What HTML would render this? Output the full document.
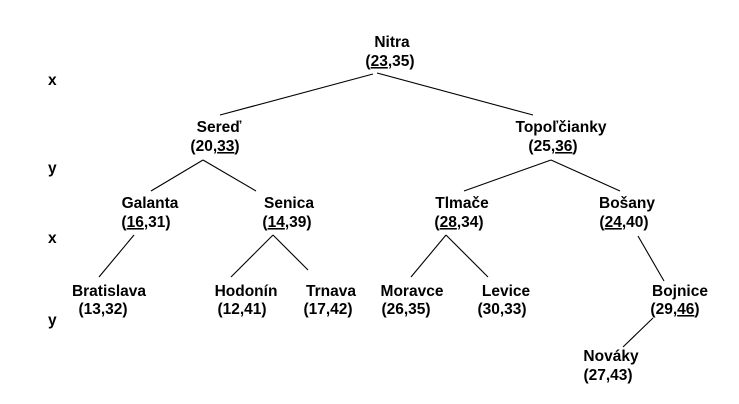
<!DOCTYPE html>
<html><head><meta charset="utf-8"><style>
html,body{margin:0;padding:0;background:#fff;width:739px;height:404px;overflow:hidden}
svg{display:block}
text{font-family:"Liberation Sans",Arial,sans-serif;font-weight:bold;font-size:15.5px;fill:#000}
</style></head><body>
<svg width="739" height="404" viewBox="0 0 739 404" xmlns="http://www.w3.org/2000/svg">
<g stroke="#000" stroke-width="1.1" fill="none">
<line x1="373" y1="74" x2="220" y2="115"/>
<line x1="377" y1="73" x2="533" y2="115"/>
<line x1="203" y1="160" x2="151" y2="191"/>
<line x1="203" y1="160" x2="256" y2="191"/>
<line x1="551" y1="160" x2="464" y2="191"/>
<line x1="551" y1="160" x2="620" y2="191"/>
<line x1="134" y1="235" x2="99" y2="277"/>
<line x1="273" y1="235" x2="231" y2="277"/>
<line x1="273" y1="235" x2="308" y2="270"/>
<line x1="446" y1="235" x2="411" y2="277"/>
<line x1="446" y1="235" x2="488" y2="277"/>
<line x1="638" y1="236" x2="664" y2="281"/>
<line x1="653" y1="318" x2="623" y2="347"/>
</g>
<g text-anchor="start">
<text x="48" y="85">x</text>
<text x="48" y="173">y</text>
<text x="48" y="243">x</text>
<text x="48" y="325">y</text>
</g>
<g text-anchor="middle">
<text x="392" y="47">Nitra</text>
<text x="390" y="66">(<tspan text-decoration="underline">23</tspan>,35)</text>
<text x="219" y="132">Sereď</text>
<text x="215" y="151">(20,<tspan text-decoration="underline">33</tspan>)</text>
<text x="561" y="132">Topoľčianky</text>
<text x="553" y="151">(25,<tspan text-decoration="underline">36</tspan>)</text>
<text x="150" y="208">Galanta</text>
<text x="146" y="227">(<tspan text-decoration="underline">16</tspan>,31)</text>
<text x="289" y="208">Senica</text>
<text x="287" y="227">(<tspan text-decoration="underline">14</tspan>,39)</text>
<text x="462" y="208">Tlmače</text>
<text x="459" y="227">(<tspan text-decoration="underline">28</tspan>,34)</text>
<text x="627" y="208">Bošany</text>
<text x="624" y="227">(<tspan text-decoration="underline">24</tspan>,40)</text>
<text x="109" y="296">Bratislava</text>
<text x="103" y="314">(13,32)</text>
<text x="246" y="296">Hodonín</text>
<text x="242" y="314">(12,41)</text>
<text x="331" y="296">Trnava</text>
<text x="328" y="314">(17,42)</text>
<text x="412" y="296">Moravce</text>
<text x="406" y="314">(26,35)</text>
<text x="506" y="296">Levice</text>
<text x="502" y="314">(30,33)</text>
<text x="680" y="296">Bojnice</text>
<text x="675" y="314">(29,<tspan text-decoration="underline">46</tspan>)</text>
<text x="611" y="361">Nováky</text>
<text x="608" y="380">(27,43)</text>
</g>
</svg>
</body></html>
